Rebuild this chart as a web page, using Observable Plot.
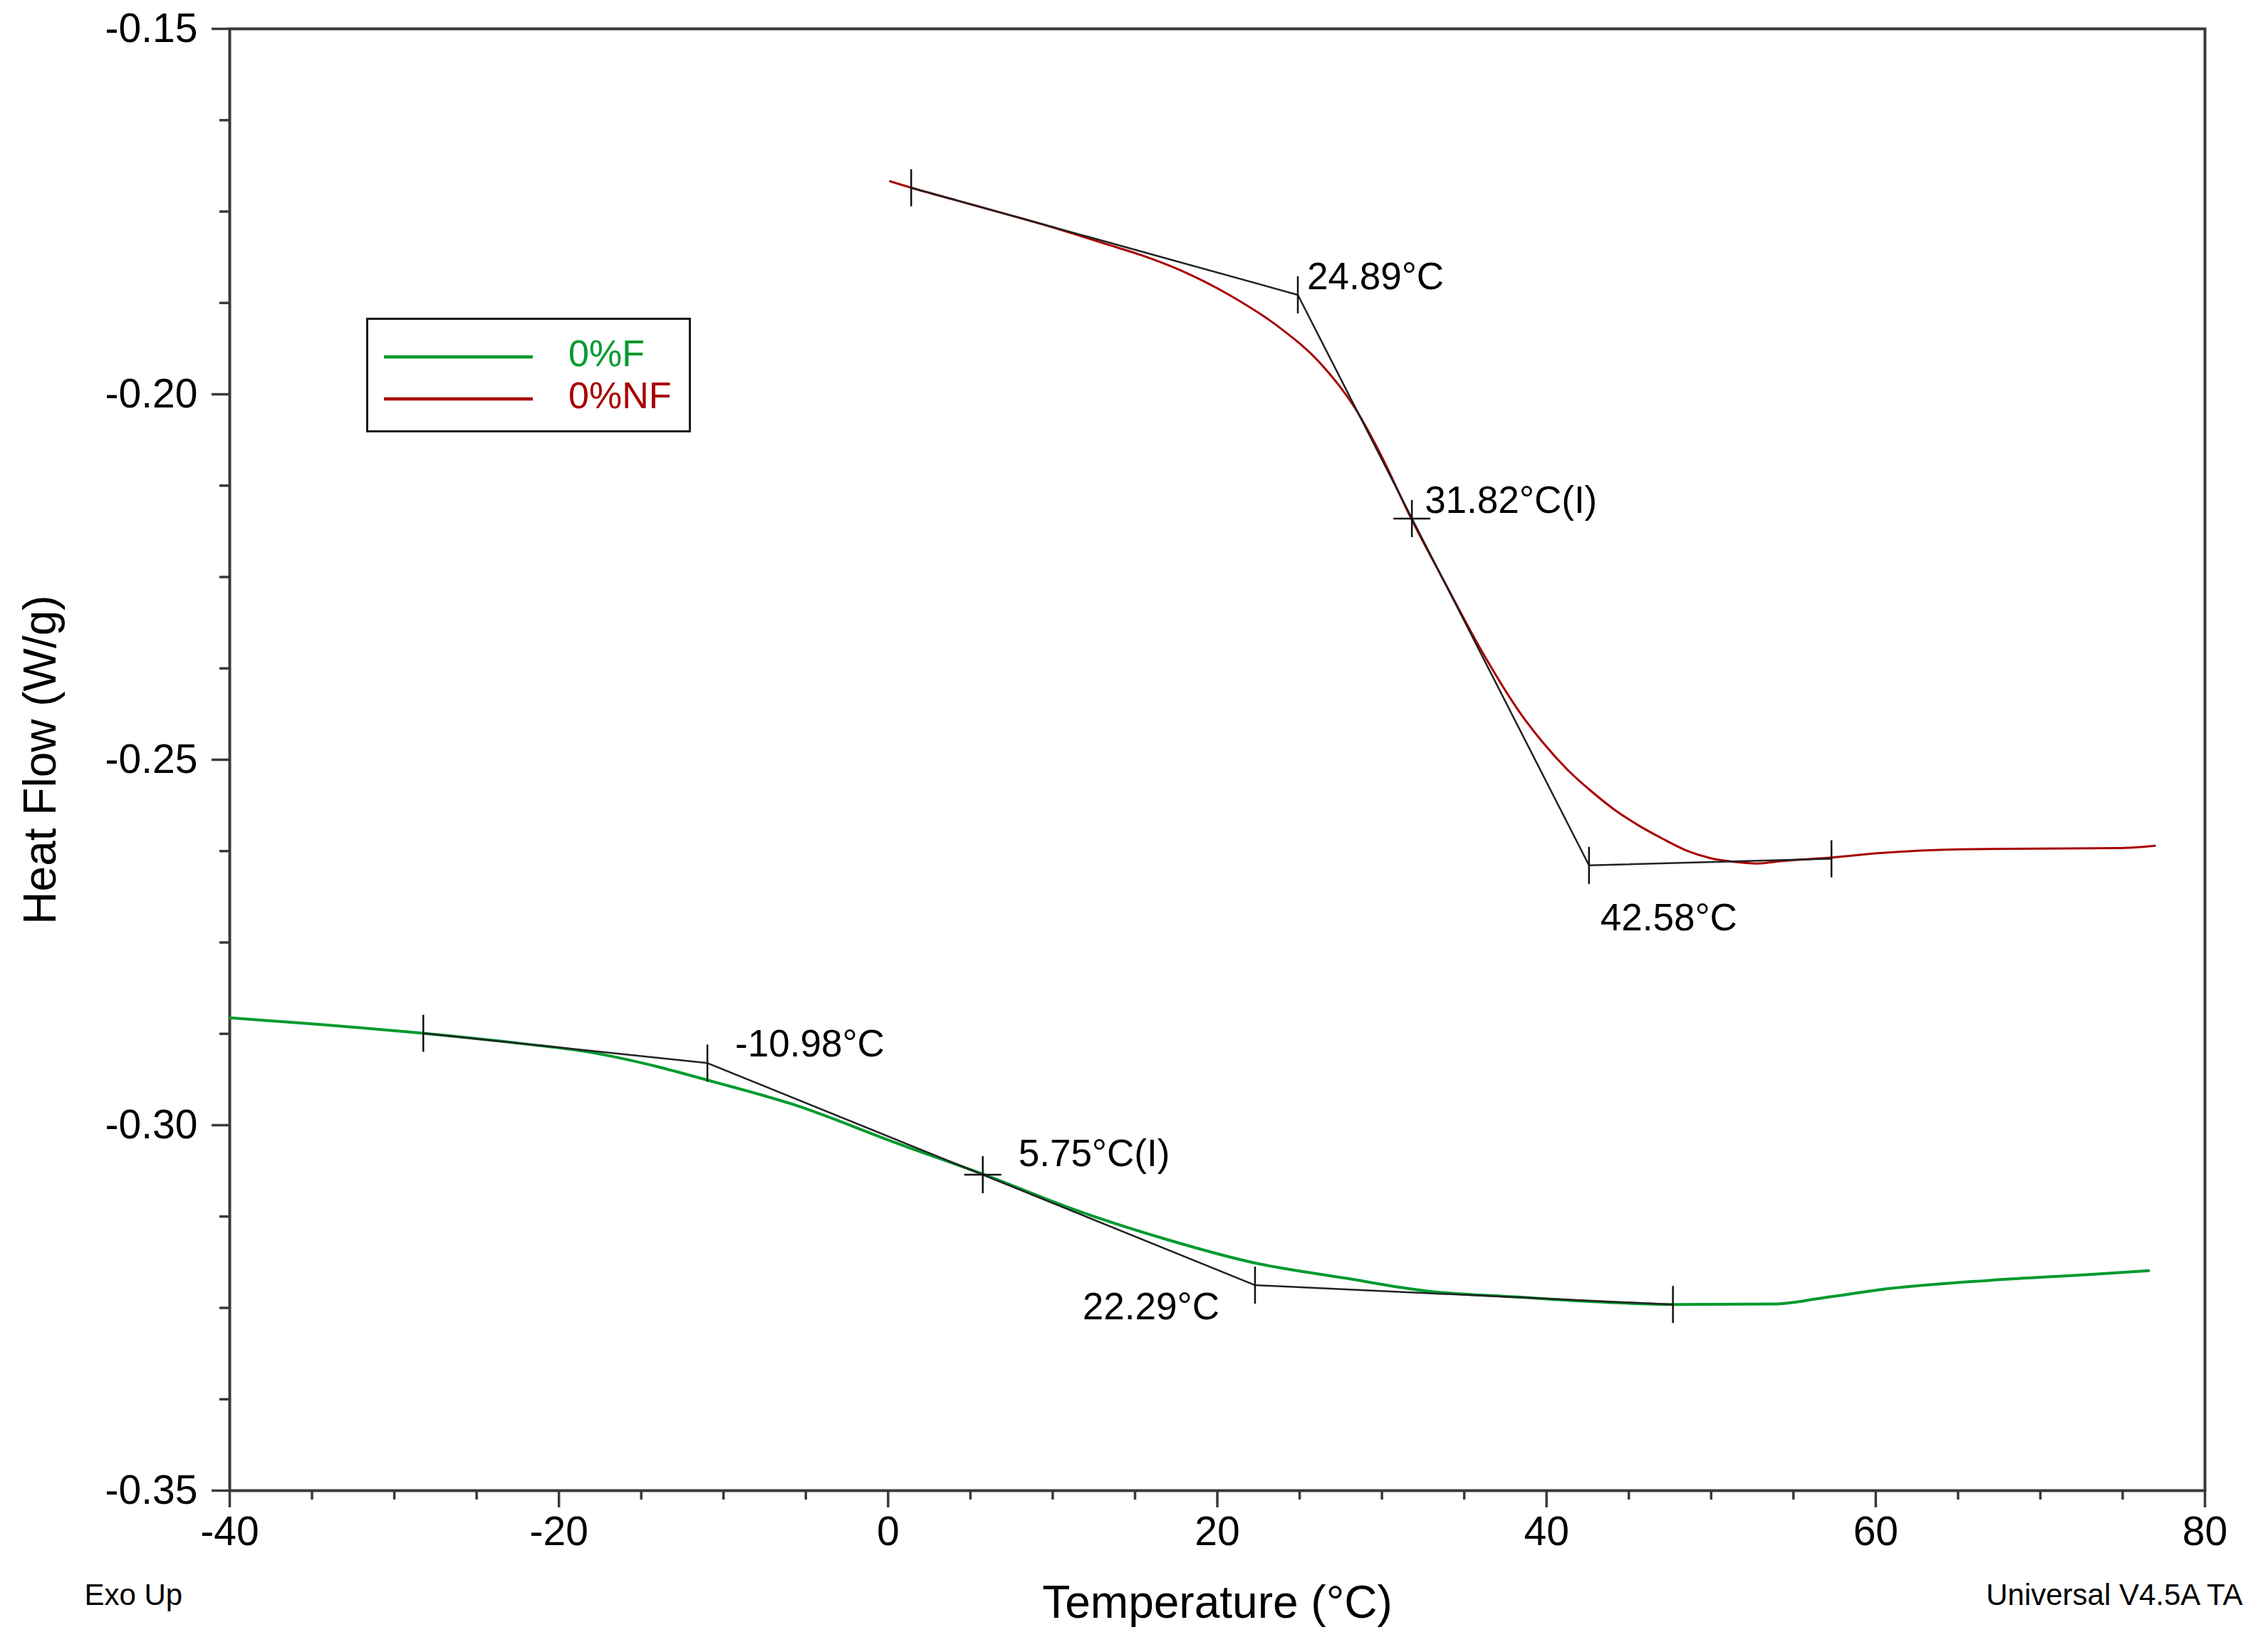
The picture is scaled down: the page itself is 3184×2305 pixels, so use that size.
<!DOCTYPE html>
<html>
<head>
<meta charset="utf-8">
<script src="https://cdn.jsdelivr.net/npm/d3@7"></script>
<script src="https://cdn.jsdelivr.net/npm/@observablehq/plot@0.6"></script>
<style>
  html, body { margin: 0; padding: 0; background: #fff; }
  #wrap { position: relative; width: 3184px; height: 2305px; }
  #legend { position: absolute; left: 514px; top: 446px; }
</style>
</head>
<body>
<div id="wrap"></div>
<script>
// ---- data ----
// 0%NF (red) heat-flow curve
const nfTemp = [0.12, 1.40, 4.20, 7.10, 10.10, 13.17, 15.50, 17.73, 20.76, 23.80, 26.23, 28.35, 29.87, 31.78, 33.82, 35.94, 38.39, 39.83, 41.27, 42.71, 44.16, 45.60, 47.04, 48.49, 49.93, 51.37, 52.81, 54.25, 57.31, 60.40, 65.09, 70.00, 74.75, 76.96];
const nfFlow = [-0.17086, -0.17174, -0.17350, -0.17530, -0.17722, -0.17940, -0.18105, -0.18300, -0.18645, -0.19090, -0.19568, -0.20183, -0.20800, -0.21701, -0.22576, -0.23465, -0.24357, -0.24779, -0.25136, -0.25429, -0.25689, -0.25900, -0.26079, -0.26241, -0.26345, -0.26397, -0.26420, -0.26387, -0.26338, -0.26274, -0.26225, -0.26215, -0.26209, -0.26176];
// 0%F (green) heat-flow curve
const fTemp = [-40.0, -28.24, -22.00, -18.18, -14.04, -10.94, -5.76, 0.45, 5.83, 11.21, 17.01, 22.14, 27.73, 32.69, 38.08, 44.28, 47.68, 53.81, 56.71, 60.84, 67.05, 73.26, 76.58];
const fFlow = [-0.28531, -0.28743, -0.28890, -0.29000, -0.29198, -0.29386, -0.29717, -0.30240, -0.30676, -0.31147, -0.31569, -0.31878, -0.32091, -0.32268, -0.32349, -0.32430, -0.32453, -0.32447, -0.32366, -0.32235, -0.32121, -0.32040, -0.31991];
// tangent construction (onset / endset) lines
const nfTanTemp = [1.40, 24.89, 42.58, 57.31];
const nfTanFlow = [-0.17174, -0.18640, -0.26445, -0.26355];
const fTanTemp = [-28.24, -10.98, 22.29, 47.68];
const fTanFlow = [-0.28743, -0.29150, -0.32189, -0.32453];
// inflection points
const inflTemp = [31.82, 5.75];
const inflFlow = [-0.21700, -0.30678];
// annotation labels
const nfLabels = ["24.89°C", "31.82°C(I)", "42.58°C"];
const fLabels = ["-10.98°C", "5.75°C(I)", "22.29°C"];
// series / legend
const seriesNames = ["0%F", "0%NF"];
const seriesColors = ["#009a2e", "#a80000"];
// axis ticks
const xMajor = [-40, -20, 0, 20, 40, 60, 80];
const yMajor = [-0.35, -0.30, -0.25, -0.20, -0.15];
const xTitle = "Temperature (°C)";
const yTitle = "Heat Flow (W/g)";
const footLeft = "Exo Up";
const footRight = "Universal V4.5A TA";

// ---- build ----
const nf = nfTemp.map((t, i) => ({t, v: nfFlow[i]}));
const f = fTemp.map((t, i) => ({t, v: fFlow[i]}));
const nfTan = nfTanTemp.map((t, i) => ({t, v: nfTanFlow[i]}));
const fTan = fTanTemp.map((t, i) => ({t, v: fTanFlow[i]}));
const infl = inflTemp.map((t, i) => ({t, v: inflFlow[i]}));
const ends = [...nfTan, ...fTan];

const xMinor = d3.range(-40, 80.001, 5).filter(d => d % 20 !== 0);
const yMinor = d3.range(0, 17).map(k => -0.35 + k * 0.0125).filter((d, k) => k % 4 !== 0);

const FONT = "'Liberation Sans', Arial, Helvetica, sans-serif";
const AX = "#3a3a3a";

const vbar = {draw(ctx, size) { const r = Math.sqrt(size / Math.PI); ctx.moveTo(0, -r); ctx.lineTo(0, r); }};
const plus = {draw(ctx, size) { const r = Math.sqrt(size / Math.PI); ctx.moveTo(0, -r); ctx.lineTo(0, r); ctx.moveTo(-r, 0); ctx.lineTo(r, 0); }};

const nfPts = [nfTan[1], infl[0], nfTan[2]];
const fPts = [fTan[1], infl[1], fTan[2]];
const nfLab = nfPts.map((p, i) => ({t: p.t, v: p.v, s: nfLabels[i]}));
const fLab = fPts.map((p, i) => ({t: p.t, v: p.v, s: fLabels[i]}));

const chart = Plot.plot({
  width: 3184,
  height: 2305,
  marginLeft: 322,
  marginRight: 89,
  marginTop: 40,
  marginBottom: 213,
  style: {fontFamily: FONT, background: "#fff", color: "#000"},
  x: {domain: [-40, 80]},
  y: {domain: [-0.35, -0.15]},
  marks: [
    // minor ticks
    Plot.axisX({ticks: xMinor, tickSize: 13, tickFormat: () => "", stroke: AX, strokeWidth: 3.5, label: null}),
    Plot.axisY({ticks: yMinor, tickSize: 14, tickFormat: () => "", stroke: AX, strokeWidth: 3.5, label: null}),
    // major ticks
    Plot.axisX({ticks: xMajor, tickSize: 24, tickPadding: 12, tickFormat: d => String(d), fontSize: 57, stroke: AX, fill: "#000", strokeWidth: 3.5, label: null}),
    Plot.axisY({ticks: yMajor, tickSize: 25, tickPadding: 20, tickFormat: d => d.toFixed(2), fontSize: 57, stroke: AX, fill: "#000", strokeWidth: 3.5, label: null}),
    Plot.frame({stroke: AX, strokeWidth: 4}),
    // curves
    Plot.line(f, {x: "t", y: "v", stroke: seriesColors[0], strokeWidth: 4, curve: "monotone-x"}),
    Plot.line(nf, {x: "t", y: "v", stroke: seriesColors[1], strokeWidth: 3, curve: "monotone-x"}),
    // tangent constructions
    Plot.line(nfTan, {x: "t", y: "v", stroke: "#222", strokeWidth: 2.5}),
    Plot.line(fTan, {x: "t", y: "v", stroke: "#222", strokeWidth: 2.5}),
    Plot.dot(ends, {x: "t", y: "v", symbol: vbar, r: 26, stroke: "#111", strokeWidth: 2.5, fill: "none"}),
    Plot.dot(infl, {x: "t", y: "v", symbol: plus, r: 26, stroke: "#111", strokeWidth: 2.5, fill: "none"}),
    // annotations
    Plot.text([nfLab[0]], {x: "t", y: "v", text: "s", textAnchor: "start", lineAnchor: "bottom", dx: 13, dy: -8, fontSize: 53, fill: "#000"}),
    Plot.text([nfLab[1]], {x: "t", y: "v", text: "s", textAnchor: "start", lineAnchor: "bottom", dx: 18, dy: -8, fontSize: 53, fill: "#000"}),
    Plot.text([nfLab[2]], {x: "t", y: "v", text: "s", textAnchor: "start", lineAnchor: "bottom", dx: 16, dy: 91, fontSize: 53, fill: "#000"}),
    Plot.text([fLab[0]], {x: "t", y: "v", text: "s", textAnchor: "start", lineAnchor: "bottom", dx: 39, dy: -9, fontSize: 53, fill: "#000"}),
    Plot.text([fLab[1]], {x: "t", y: "v", text: "s", textAnchor: "start", lineAnchor: "bottom", dx: 50, dy: -12, fontSize: 53, fill: "#000"}),
    Plot.text([fLab[2]], {x: "t", y: "v", text: "s", textAnchor: "end", lineAnchor: "bottom", dx: -50, dy: 48, fontSize: 53, fill: "#000"}),
    // titles and footers
    Plot.text([xTitle], {frameAnchor: "bottom", text: d => d, textAnchor: "middle", lineAnchor: "bottom", dy: 178, fontSize: 64, fill: "#000"}),
    Plot.text([yTitle], {frameAnchor: "left", text: d => d, rotate: -90, textAnchor: "middle", lineAnchor: "bottom", dx: -245, fontSize: 64, fill: "#000"}),
    Plot.text([footLeft], {frameAnchor: "bottom-left", text: d => d, textAnchor: "start", lineAnchor: "bottom", dx: -204, dy: 160, fontSize: 42, fill: "#000"}),
    Plot.text([footRight], {frameAnchor: "bottom-right", text: d => d, textAnchor: "end", lineAnchor: "bottom", dx: 53, dy: 160, fontSize: 42, fill: "#000"})
  ]
});
const wrap = document.getElementById("wrap");
wrap.appendChild(chart);

// legend box (overlay inside the plot area)
const lg = d3.create("svg").attr("id", "legend").attr("width", 456).attr("height", 162)
  .style("font-family", FONT);
lg.append("rect").attr("x", 1.5).attr("y", 1.5).attr("width", 453).attr("height", 158)
  .attr("fill", "#fff").attr("stroke", "#1a1a1a").attr("stroke-width", 3);
seriesNames.forEach((name, i) => {
  const cy = 55 + i * 59;
  lg.append("line").attr("x1", 25).attr("x2", 234).attr("y1", cy).attr("y2", cy)
    .attr("stroke", seriesColors[i]).attr("stroke-width", 4.5);
  lg.append("text").attr("x", 284).attr("y", cy + 13).attr("font-size", 52)
    .attr("fill", seriesColors[i]).text(name);
});
wrap.appendChild(lg.node());
</script>
</body>
</html>
